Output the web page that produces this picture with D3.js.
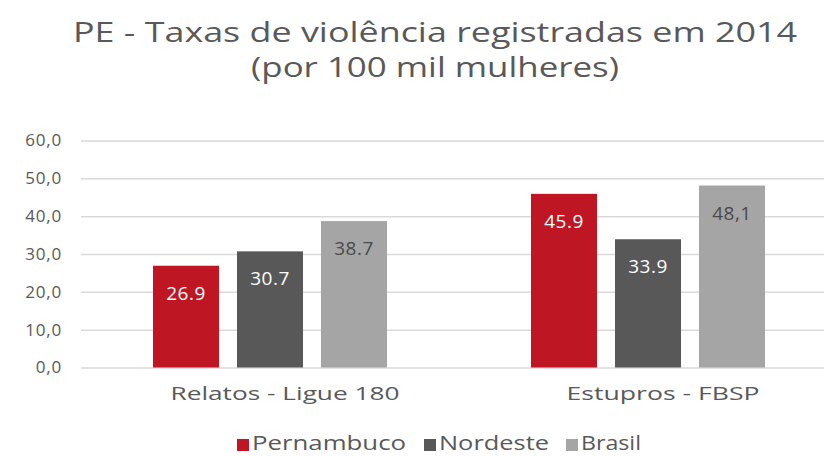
<!DOCTYPE html>
<html><head><meta charset="utf-8">
<script src="https://cdn.jsdelivr.net/npm/d3@7"></script>
<style>body{margin:0;background:#fff}svg{display:block}text{font-family:"Open Sans",Lato,sans-serif}</style>
</head><body><svg id="c" width="824" height="456"></svg>
<script>
const categories = ["Relatos - Ligue 180", "Estupros - FBSP"];
const seriesNames = ["Pernambuco", "Nordeste", "Brasil"];
const pernambuco = [26.9, 45.9];
const nordeste = [30.7, 33.9];
const brasil = [38.7, 48.1];
const valueLabels = [["26.9", "45.9"], ["30.7", "33.9"], ["38.7", "48,1"]];
const yTicks = [0, 10, 20, 30, 40, 50, 60];
const colors = ["#be1622", "#585858", "#a5a5a5"];
const labelColors = ["#ffffff", "#ffffff", "#4a4a4a"];
const series = [pernambuco, nordeste, brasil];

const svg = d3.select("#c");
const txt = "#595959";
const y = d3.scaleLinear().domain([0, 60]).range([367.5, 140.5]);
const x0 = d3.scaleBand().domain(categories).range([81, 837]).padding(0);
const x1 = d3.scaleBand().domain(seriesNames).range([72, 306]).paddingInner(0.214).paddingOuter(0);

function fit(sel, w) { sel.attr("textLength", w).attr("lengthAdjust", "spacingAndGlyphs"); return sel; }

// title
fit(svg.append("text").attr("x", 435).attr("y", 42).attr("text-anchor", "middle")
  .attr("font-size", 28).attr("fill", txt).text("PE - Taxas de violência registradas em 2014"), 724);
fit(svg.append("text").attr("x", 435).attr("y", 77).attr("text-anchor", "middle")
  .attr("font-size", 28).attr("fill", txt).text("(por 100 mil mulheres)"), 368);

// grid + y axis
const yAxis = d3.axisLeft(y).tickValues(yTicks).tickSize(-(824 - 81)).tickPadding(19)
  .tickFormat(d => d3.format(".1f")(d).replace(".", ","));
const ga = svg.append("g").attr("transform", "translate(81,0)").call(yAxis);
ga.select(".domain").remove();
ga.selectAll(".tick line").attr("stroke", "#d9d9d9").attr("stroke-width", 1.5);
ga.selectAll(".tick text").attr("font-size", 17).attr("fill", txt)
  .attr("font-family", "'Open Sans',sans-serif").attr("letter-spacing", 0.8);

// bars
const groups = svg.append("g").selectAll("g").data(categories).join("g")
  .attr("transform", d => `translate(${x0(d)},0)`);
groups.each(function(cat, ci) {
  const g = d3.select(this);
  seriesNames.forEach((s, si) => {
    const v = series[si][ci];
    g.append("rect").attr("x", x1(s)).attr("width", x1.bandwidth())
      .attr("y", y(v)).attr("height", y(0) - y(v)).attr("fill", colors[si]);
    g.append("text").attr("x", x1(s) + x1.bandwidth() / 2).attr("y", y(v) + 34)
      .attr("text-anchor", "middle").attr("font-size", 19).attr("fill", labelColors[si])
      .attr("letter-spacing", 0.5)
      .text(valueLabels[si][ci]);
  });
});

// x axis labels
const xAxis = d3.axisBottom(x0).tickSize(0).tickPadding(19);
const gx = svg.append("g").attr("transform", "translate(15,367.5)").call(xAxis);
gx.select(".domain").remove();
gx.selectAll(".tick text").attr("font-size", 19).attr("fill", txt)
  .attr("font-family", "'Open Sans',sans-serif")
  .each(function(d, i) { fit(d3.select(this), [229, 193][i]); });

// legend
const legendX = [237, 424, 566];
const legendW = [154, 110, 60];
const lg = svg.append("g");
seriesNames.forEach((s, i) => {
  lg.append("rect").attr("x", legendX[i]).attr("y", 439).attr("width", 12).attr("height", 12).attr("fill", colors[i]);
  fit(lg.append("text").attr("x", legendX[i] + 15).attr("y", 450).attr("font-size", 20).attr("fill", txt).text(s), legendW[i]);
});
</script></body></html>
